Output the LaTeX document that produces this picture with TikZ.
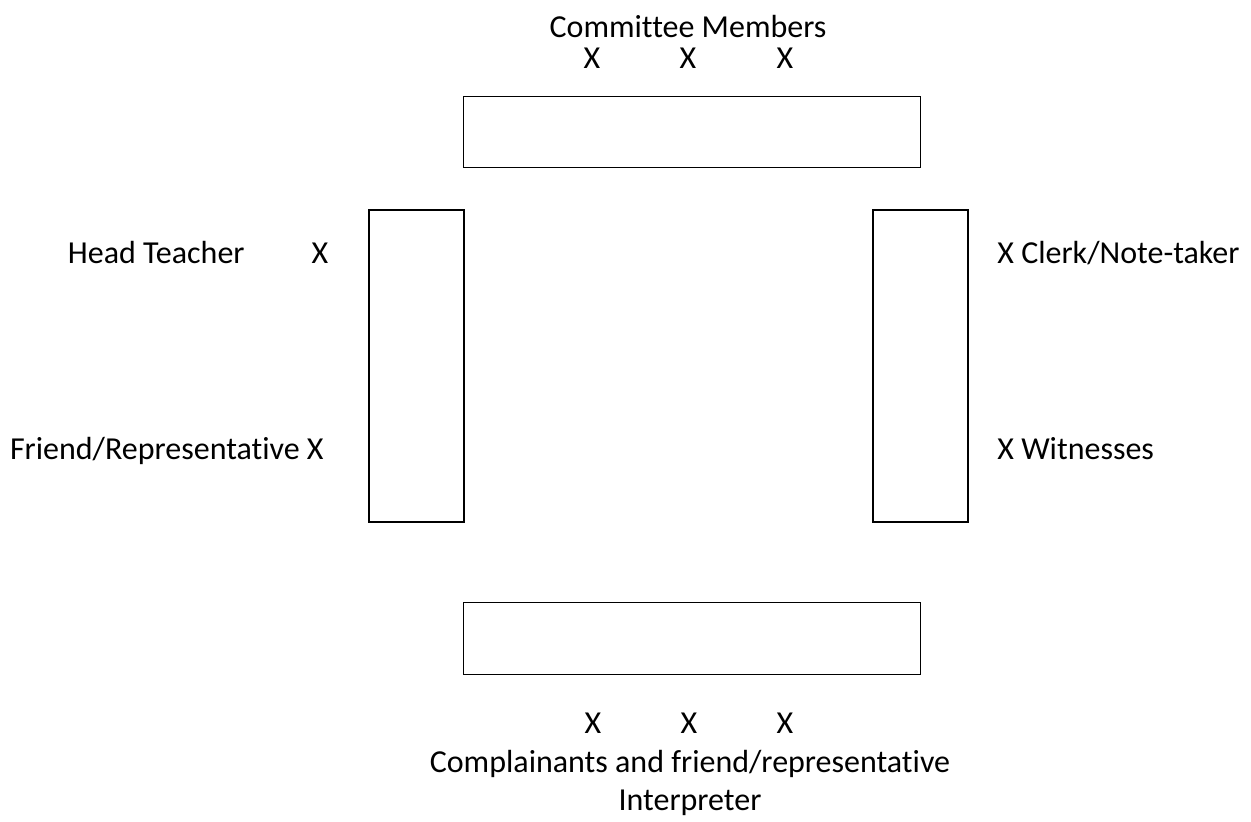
\documentclass[tikz,border=0pt]{standalone}
\usepackage{fontspec}
\setmainfont{Carlito}[Ligatures=NoCommon]
\usetikzlibrary{calc}

\tikzset{table/.style={draw, line width=0.9pt, inner sep=0pt},
  seat/.style={inner sep=0pt, font=\fontsize{16}{19}\selectfont}}

\begin{document}
\begin{tikzpicture}[x=0.5pt,y=-0.5pt]
\useasboundingbox (0,0) rectangle (1251,821);
% tables
\node[table, minimum width=228.5pt, minimum height=35.5pt] (toptable) at (692,132) {};
\node[table, minimum width=228.5pt, minimum height=36pt] (bottable) at (692,638.5) {};
\node[table, minimum width=47.5pt, minimum height=156pt] (lefttable) at (416.5,366) {};
\node[table, minimum width=47.5pt, minimum height=156pt] (righttable) at (920.5,366) {};
% committee
\node[seat, anchor=base] (committee) at (688,37) {Committee Members};
\foreach \x in {592,688,785}
{	\node[seat, anchor=base] (cm\x) at (\x,68) {X};
}
% left side
\node[seat, anchor=base east] (head) at (245,263) {Head Teacher};
\node[seat, anchor=base] (headx) at (320,263) {X};
\node[seat, anchor=base east] (friend) at (324,459) {Friend/Representative X};
% right side
\node[seat, anchor=base west] (clerk) at (997,263) {X Clerk/Note-taker};
\node[seat, anchor=base west] (witness) at (997,459) {X Witnesses};
% complainants
\foreach \x in {593,689,785}
{	\node[seat, anchor=base] (cp\x) at (\x,733) {X};
}
\node[seat, anchor=base] (complain) at (690,772) {Complainants and friend/representative};
\node[seat, anchor=base] (interp) at (690,810) {Interpreter};
\end{tikzpicture}
\end{document}
